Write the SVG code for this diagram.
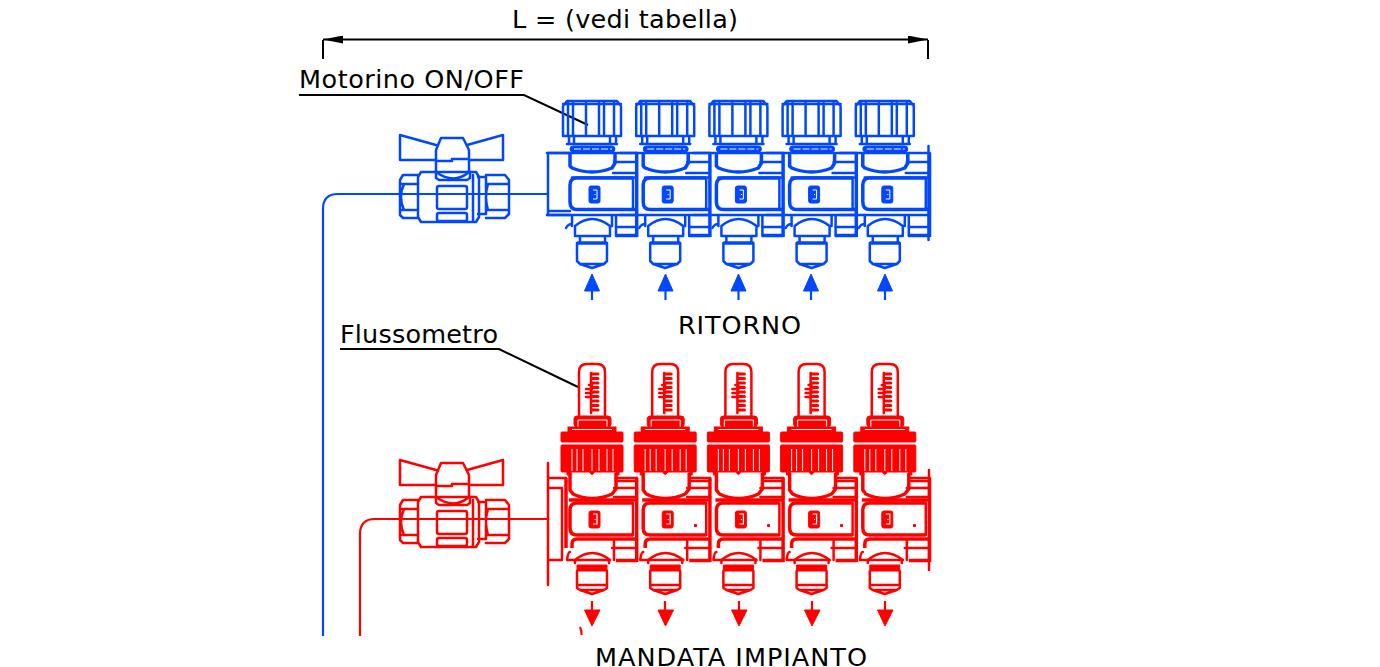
<svg xmlns="http://www.w3.org/2000/svg" width="1380" height="667" viewBox="0 0 1380 667">
<style>
text{font-family:"DejaVu Sans",Verdana,sans-serif;font-size:25.500px;fill:#000}
.b{color:#0047ff}.r{color:#ff0000}
.s{fill:none;stroke:currentColor;stroke-width:2.500;stroke-linejoin:round;stroke-linecap:round}
.t{fill:none;stroke:currentColor;stroke-width:3.500;stroke-linejoin:round}
.f{fill:currentColor;stroke:currentColor;stroke-width:1}
.w{fill:none;stroke:#fff;stroke-width:1}
.k{fill:none;stroke:#000;stroke-width:2}
.p{fill:none;stroke:currentColor;stroke-width:2.200}
</style>
<defs>
<marker id="dim" viewBox="0 0 20 8" refX="20" refY="4" markerWidth="20" markerHeight="8" markerUnits="userSpaceOnUse" orient="auto-start-reverse"><path d="M0 0L20 4L0 8Z" fill="#000"/></marker>
<g id="valve">
<path class="s" d="M436 145L400 135V160H436M467 145L503 135V160H469"/>
<path class="s" d="M436 150V172Q454 185 469 172V150L463 138H441L436 150M436 161H452V159H469"/>
<path class="s" d="M436 172V178L439 180H467L470 178V172"/>
<path class="s" d="M421 172H476L479 177V217L476 222H421L418 217V177ZM473 175V220"/>
<path class="s" d="M418 175H403L400 180V215L403 218H418M400 184H418M400 210H418M404 184Q398 197 404 210"/>
<path class="s" d="M478 177H486V214H478M486 175H505L509 180V214L505 218H486M486 184H509M486 210H509M488 184Q484 197 488 210"/>
<rect class="s" x="437" y="186" width="30" height="23" rx="2"/>
<rect class="s" x="437" y="213" width="30" height="8" rx="2"/>
</g>
<g id="mb">
<path class="s" d="M-29 136V106L-25 101H25L29 106V136ZM-29 104H29M-24 103V136M-19 103V136M-6 103V136M7 103V136M12 103V136M22 103V136"/>
<path class="s" d="M-23 137V144M24 137V144M-25 144H25M-18 137V144M18 137V144"/>
<rect class="f" x="-22" y="146" width="45" height="6" rx="3"/>
<path class="w" d="M-18 149H20" stroke-dasharray="7 2"/>
<path class="t" d="M-22 153V166L-20 168Q0 176 20 168L23 163V153"/>
<path class="s" d="M-45 153H45M22 162H44M21 173H44M-20 177.500H44"/>
<path class="t" d="M41 178H-15Q-22 178 -22 185V202Q-22 209.500 -15 209.500H44"/>
<path class="s" d="M41 178V209"/>
<rect class="f" x="-3" y="186" width="11" height="17" rx="2"/>
<path d="M1 190H5V199H1M3 194V195" fill="none" stroke="#fff" stroke-width="1"/>
<path class="s" d="M-45 215H44"/>
<path class="s" d="M-20 216V226M20 216V226M-26 228Q-24 224 -20 224M24 216V236M-17 226Q0 212 18 226V236H-17ZM-12 236V242M13 236V242"/>
<path class="s" d="M24 227H44"/><path class="t" d="M24 235.500H45"/>
<path class="t" d="M44.700 153V237"/>
<path class="t" d="M-15 243H15"/>
<path class="s" d="M-15 243V261L-12 264H12L15 261V243M-12 264L0 268L12 264"/>
</g>
<g id="mr">
<path class="s" d="M-13 417V372Q-13 364 -5 364H5Q13 364 13 372V417"/>
<path class="s" d="M-1 373V413"/>
<path d="M0 374H6M0 378.500H6M0 383H6M0 387.500H6M0 392H6M0 396.500H6M0 401H6M0 405.500H6M0 410H6" fill="none" stroke="currentColor" stroke-width="3" stroke-linecap="round"/>
<path d="M-6 389H0M-6 393H0M-6 397H0M-3 385H0" fill="none" stroke="currentColor" stroke-width="2.500" stroke-linecap="round"/>
<rect class="f" x="-18" y="416" width="37" height="11" rx="3"/>
<path class="w" d="M-14 420H15M-14 420V427M15 420V427" stroke-width="1"/>
<rect class="f" x="-24" y="427" width="48" height="5"/>
<path class="w" d="M-20 429.500H20"/>
<rect class="f" x="-31" y="432" width="62" height="10" rx="1"/>
<rect class="f" x="-31" y="445" width="62" height="27" rx="1"/>
<path class="w" d="M-20 449V471M-15 449V471M-9 449V471M0 449V471M7 449V471M15 449V471M21 449V471"/>
<path class="f" d="M-2 472H2V473Q0 476 -2 473ZM-25 472H-21V475H-25ZM24 472H27V475H24Z"/>
<path class="t" d="M-22 473V490L-19 494Q0 503 20 494L24 489V473"/>
<path class="s" d="M24 478H45M25 481H45M22 488H45M22 497H45"/>
<path class="t" d="M-23 500H45"/>
<path class="t" d="M41 503H-15Q-22 503 -22 510V528Q-22 535 -15 535H41"/>
<path class="s" d="M41 503V535"/>
<rect class="f" x="-3" y="511" width="11" height="17" rx="2"/>
<path d="M1 514H5V524H1M3 519V520" fill="none" stroke="#fff" stroke-width="1.200"/>
<path class="t" d="M-20 548V544Q-20 539 -15 539H45"/>
<path class="s" d="M22 540V560M20 548H45M-22 552Q-24 552 -25 560H-17M-17 560Q0 546 18 560"/>
<path class="t" d="M24 560.500H45"/>
<path class="t" d="M44.700 478V562"/>
<path class="s" d="M-17 560H18M-17 560V563M17 560V563"/>
<path class="f" d="M-15 565H15V571H-15Z"/>
<path class="s" d="M-15 571V588L-12 590H12L15 588V571M-15 585H15M-12 590L0 594L12 590"/>
</g>
</defs>

<g id="connectors">
<path class="k" d="M323 39.500H928" marker-start="url(#dim)" marker-end="url(#dim)"/>
<path class="k" d="M323 40V59M928 40V59"/>
<path class="k" d="M299 95H524L588 125"/>
<path class="k" d="M340 349H499L578 387"/>
<path class="p b" d="M323 636V209Q323 194 338 194H548"/>
<path class="p r" d="M360 636V534Q360 519 375 519H548"/>
<g class="b">
<path class="p" d="M592 291V300"/><path class="f" d="M592 274L599.500 291H584.500Z"/>
<path class="p" d="M665.500 291V300"/><path class="f" d="M665.500 274L673 291H658Z"/>
<path class="p" d="M738.500 291V300"/><path class="f" d="M738.500 274L746 291H731Z"/>
<path class="p" d="M811 291V300"/><path class="f" d="M811 274L818.500 291H803.500Z"/>
<path class="p" d="M885 291V300"/><path class="f" d="M885 274L892.500 291H877.500Z"/>
</g>
<g class="r">
<path class="p" d="M592 601V612"/><path class="f" d="M592 626L584.500 610H600Z"/>
<path class="p" d="M665 601V612"/><path class="f" d="M665.500 626L658 610H673.500Z"/>
<path class="p" d="M739 601V612"/><path class="f" d="M739 626L731.500 610H747Z"/>
<path class="p" d="M812 601V612"/><path class="f" d="M812 626L804.500 610H820Z"/>
<path class="p" d="M885 601V612"/><path class="f" d="M885 626L877.500 610H893Z"/>
<path class="p" d="M580 627Q582 631 581.500 635"/>
</g>
</g>

<g id="valve-ritorno" class="b"><use href="#valve"/></g>
<g id="valve-mandata" class="r"><use href="#valve" y="325"/></g>

<g id="collettore-ritorno" class="b">
<path class="s" d="M548 153V215M548 153H570M548 211H570M548 215H570"/>
<use href="#mb" x="592"/>
<use href="#mb" x="665.200"/>
<use href="#mb" x="738.400"/>
<use href="#mb" x="811.600"/>
<use href="#mb" x="884.800"/>
<path class="s" d="M928.500 146V240"/>
</g>

<g id="collettore-mandata" class="r">
<path class="s" d="M548 463V585M548 478H566M548 488H562M548 560H562M562 488V560"/>
<path class="t" d="M566 478V548"/>
<use href="#mr" x="592"/>
<use href="#mr" x="665.200"/>
<use href="#mr" x="738.400"/>
<use href="#mr" x="811.600"/>
<use href="#mr" x="884.800"/>
<path class="s" d="M929 470V570"/>
<path class="f" d="M694.500 524.500h2v2h-2zM767.500 524.500h2v2h-2zM840.500 524.500h2v2h-2zM913.500 524.500h2v2h-2z"/>
</g>

<g id="labels">
<text x="512" y="28" textLength="226">L = (vedi tabella)</text>
<text x="299" y="88" textLength="225">Motorino ON/OFF</text>
<text x="340" y="343" textLength="158">Flussometro</text>
<text x="678" y="334" textLength="123">RITORNO</text>
<text x="595" y="666" textLength="272">MANDATA IMPIANTO</text>
</g>
</svg>
